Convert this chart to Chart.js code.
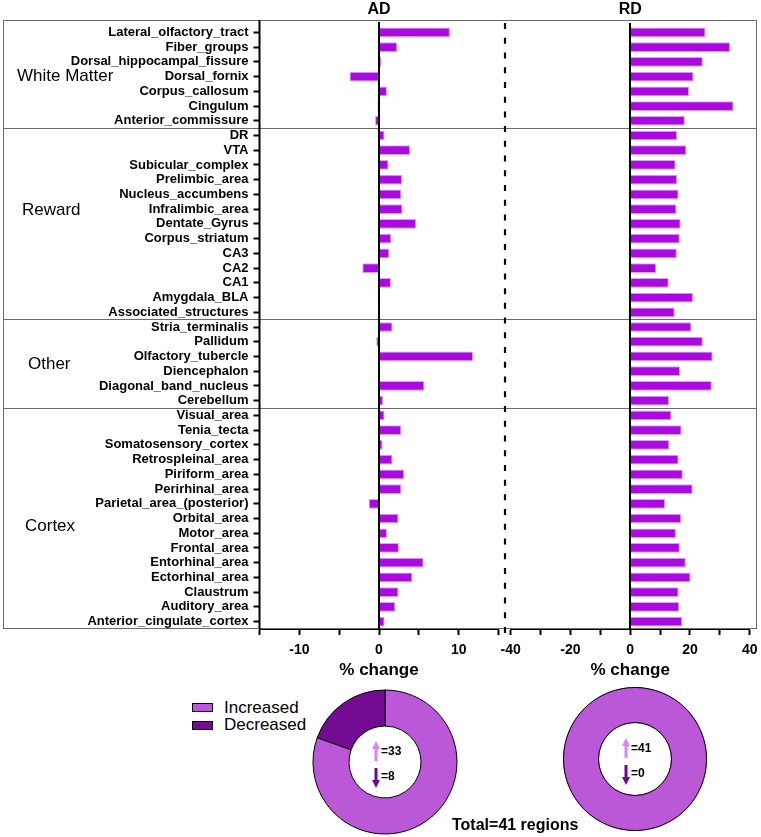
<!DOCTYPE html>
<html><head><meta charset="utf-8">
<script src="https://cdn.jsdelivr.net/npm/chart.js@4.4.1/dist/chart.umd.min.js"></script>
<style>
html,body{margin:0;padding:0;background:#fff;overflow:hidden}
#page{position:relative;width:761px;height:837px;overflow:hidden;font-family:"Liberation Sans",Arial,sans-serif;color:#000}
canvas{position:absolute}
.leg{position:absolute;left:224px;font-size:17px;line-height:17px;white-space:nowrap}
.sw{position:absolute;left:192px;width:19px;height:7px;border:1px solid #000}
#total{position:absolute;left:452px;top:817px;font-weight:bold;font-size:16px;line-height:16px;white-space:nowrap}
</style></head><body>
<div id="page">
<canvas id="ad" width="505" height="684" style="left:0;top:0"></canvas>
<canvas id="rd" width="284" height="684" style="left:480px;top:0"></canvas>
<canvas id="pieAd" width="150" height="150" style="left:310px;top:687px"></canvas>
<canvas id="pieRd" width="150" height="150" style="left:560px;top:684px"></canvas>
<div class="sw" id="sw0" style="top:703px"></div>
<div class="leg" id="lg0" style="top:699px"></div>
<div class="sw" id="sw1" style="top:721px"></div>
<div class="leg" id="lg1" style="top:716px"></div>
<div id="total"></div>
</div>
<script>
// ---------- data ----------
const regions = [
  'Lateral_olfactory_tract','Fiber_groups','Dorsal_hippocampal_fissure','Dorsal_fornix','Corpus_callosum','Cingulum','Anterior_commissure',
  'DR','VTA','Subicular_complex','Prelimbic_area','Nucleus_accumbens','Infralimbic_area','Dentate_Gyrus','Corpus_striatum','CA3','CA2','CA1','Amygdala_BLA','Associated_structures',
  'Stria_terminalis','Pallidum','Olfactory_tubercle','Diencephalon','Diagonal_band_nucleus','Cerebellum',
  'Visual_area','Tenia_tecta','Somatosensory_cortex','Retrospleinal_area','Piriform_area','Perirhinal_area','Parietal_area_(posterior)','Orbital_area','Motor_area','Frontal_area','Entorhinal_area','Ectorhinal_area','Claustrum','Auditory_area','Anterior_cingulate_cortex'
];
const groupNames = ['White Matter','Reward','Other','Cortex'];
const groupSizes = [7, 13, 6, 15];
const adChange = [
  8.9, 2.3, 0.3, -3.7, 1.0, -0.2, -0.5,
  0.7, 3.9, 1.2, 2.9, 2.8, 2.95, 4.65, 1.55, 1.3, -2.1, 1.5, 0.1, -0.1,
  1.7, -0.35, 11.8, -0.1, 5.7, 0.5,
  0.7, 2.8, 0.45, 1.7, 3.15, 2.8, -1.3, 2.45, 1.0, 2.5, 5.6, 4.2, 2.45, 2.05, 0.7
];
const rdChange = [
  25.2, 33.4, 24.3, 21.2, 19.7, 34.6, 18.3,
  15.7, 18.8, 15.2, 15.7, 16.2, 15.5, 16.9, 16.6, 15.6, 8.7, 12.9, 21.0, 14.9,
  20.5, 24.3, 27.6, 16.7, 27.3, 13.0,
  13.8, 17.2, 13.1, 16.2, 17.6, 20.9, 11.7, 17.1, 15.3, 16.6, 18.6, 20.2, 16.2, 16.4, 17.4
];
const adTickLabels = [-10, 0, 10];
const rdTickLabels = [-40, -20, 0, 20, 40];
const countLabels = ['Increased', 'Decreased'];
const adCounts = [33, 8];
const rdCounts = [41, 0];
const totalText = 'Total=41 regions';

// ---------- styling / layout ----------
const FONT = '"Liberation Sans", Arial, sans-serif';
Chart.defaults.font.family = FONT;
Chart.defaults.color = '#000';
const barFill = '#AA0AE1';
const barEdge = '#D9A2F2';
const incColor = '#BA58D8';
const decColor = '#740B93';
const upArrow = '#DE82FA';
const downArrow = '#6B0D8A';
const boxLine = '#6b6b6b';
const groupLabelAt = [3, 12.1, 22.5, 33.5];
const groupLabelX = [17, 22, 28, 25];

function groupEdges() {
  const e = []; let c = 0;
  for (let i = 0; i < groupSizes.length - 1; i++) { c += groupSizes[i]; e.push(c); }
  return e;
}
function crisp(v) { return Math.round(v - 0.5) + 0.5; }

function drawBoxes(chart, x0, x1, withLeft, withRight) {
  const {ctx, chartArea: ca, scales: {y}} = chart;
  const top = ca.top - 4.5;
  const bottom = crisp(ca.bottom - 1);
  ctx.save();
  ctx.strokeStyle = boxLine; ctx.lineWidth = 1;
  ctx.beginPath();
  const ys = [top, bottom].concat(groupEdges().map(k => crisp(y.getPixelForValue(k - 0.5))));
  ys.forEach(v => { ctx.moveTo(x0, v); ctx.lineTo(x1, v); });
  if (withLeft) { ctx.moveTo(x0 + 0.5, top); ctx.lineTo(x0 + 0.5, bottom); }
  if (withRight) { ctx.moveTo(x1 - 0.5, top); ctx.lineTo(x1 - 0.5, bottom); }
  ctx.stroke();
  ctx.restore();
}

const adDeco = {
  id: 'adDeco',
  beforeDatasetsDraw(chart) {
    const {ctx, scales: {y}} = chart;
    drawBoxes(chart, 3, chart.width, true, false);
    ctx.save();
    ctx.fillStyle = '#000';
    ctx.font = '17px ' + FONT;
    ctx.textAlign = 'left'; ctx.textBaseline = 'middle';
    groupNames.forEach((g, i) => ctx.fillText(g, groupLabelX[i], y.getPixelForValue(groupLabelAt[i])));
    ctx.restore();
  },
  afterDatasetsDraw(chart) {
    const {ctx, chartArea: ca, scales: {x}} = chart;
    ctx.save();
    ctx.strokeStyle = '#000'; ctx.lineWidth = 2;
    ctx.beginPath();
    ctx.moveTo(ca.left, ca.top - 5); ctx.lineTo(ca.left, ca.bottom);
    const z = Math.round(x.getPixelForValue(0));
    ctx.moveTo(z, ca.top - 3); ctx.lineTo(z, ca.bottom);
    ctx.stroke();
    ctx.restore();
  }
};

const rdDeco = {
  id: 'rdDeco',
  beforeDatasetsDraw(chart) {
    drawBoxes(chart, 23, 277, false, true);
  },
  afterDatasetsDraw(chart) {
    const {ctx, chartArea: ca, scales: {x}} = chart;
    ctx.save();
    ctx.strokeStyle = '#000'; ctx.lineWidth = 2;
    ctx.beginPath();
    const z = Math.round(x.getPixelForValue(0));
    ctx.moveTo(z, ca.top - 2); ctx.lineTo(z, ca.bottom);
    ctx.stroke();
    ctx.setLineDash([6, 8.73]);
    ctx.lineWidth = 2.2;
    ctx.beginPath();
    ctx.moveTo(ca.left - 5.7, ca.top - 2); ctx.lineTo(ca.left - 5.7, ca.bottom + 4);
    ctx.stroke();
    ctx.restore();
  }
};

function barOptions(title, min, max, step, labels, padL, padR, showY) {
  return {
    indexAxis: 'y', responsive: false, animation: false, events: [],
    layout: { autoPadding: false, padding: { left: padL, right: padR, top: 0, bottom: 0 } },
    plugins: {
      legend: { display: false }, tooltip: { enabled: false },
      title: { display: true, text: title, fullSize: false, color: '#000', font: { size: 16, weight: 'bold' }, padding: { top: 0, bottom: 5.8 } }
    },
    scales: {
      y: {
        type: 'category', display: showY,
        afterFit: s => { s.width = showY ? 259.5 : 0; },
        grid: { display: true, offset: false, drawOnChartArea: false, drawTicks: true, tickLength: 6, tickColor: '#000', tickWidth: 2 },
        border: { display: false },
        ticks: { color: '#000', font: { size: 13, weight: 'bold' }, padding: 5, autoSkip: false }
      },
      x: {
        type: 'linear', min: min, max: max,
        afterFit: s => { s.height = 55; },
        grid: { display: true, drawOnChartArea: false, drawTicks: true, tickLength: 6, tickColor: '#000', tickWidth: 2 },
        border: { display: true, color: '#000', width: 2 },
        ticks: { stepSize: step, color: '#000', font: { size: 14, weight: 'bold' }, padding: 6.5, maxRotation: 0, autoSkip: false,
                 callback: v => labels.includes(v) ? String(v) : '' },
        title: { display: true, text: '% change', color: '#000', font: { size: 17, weight: 'bold' }, padding: { top: 0, bottom: 3 } }
      }
    }
  };
}

function barData(values) {
  return { labels: regions, datasets: [{ data: values, backgroundColor: barFill, borderColor: barEdge, borderWidth: 1,
    barPercentage: 0.66, categoryPercentage: 1 }] };
}

new Chart(document.getElementById('ad'), {
  type: 'bar', data: barData(adChange),
  options: barOptions('AD', -15, 15, 5, adTickLabels, 0, 4.7, true),
  plugins: [adDeco]
});
new Chart(document.getElementById('rd'), {
  type: 'bar', data: barData(rdChange),
  options: barOptions('RD', -40, 40, 10, rdTickLabels, 30.7, 11, false),
  plugins: [rdDeco]
});

function centerPlugin(counts, manualRing) {
  return {
    id: 'center',
    afterDraw(chart) {
      const {ctx} = chart;
      const arc = chart.getDatasetMeta(0).data[0];
      const cx = arc.x, cy = arc.y;
      ctx.save();
      if (manualRing) {
        ctx.strokeStyle = '#000'; ctx.lineWidth = 1;
        ctx.beginPath(); ctx.arc(cx, cy, arc.outerRadius - 0.5, 0, Math.PI * 2); ctx.stroke();
        ctx.beginPath(); ctx.arc(cx, cy, arc.innerRadius + 0.5, 0, Math.PI * 2); ctx.stroke();
      }
      const ax = cx - 9;
      // up arrow
      ctx.fillStyle = upArrow;
      ctx.beginPath();
      ctx.moveTo(ax, cy - 21); ctx.lineTo(ax - 4, cy - 13); ctx.lineTo(ax + 4, cy - 13); ctx.closePath(); ctx.fill();
      ctx.fillRect(ax - 1.5, cy - 14, 3, 13);
      // down arrow
      ctx.fillStyle = downArrow;
      ctx.beginPath();
      ctx.moveTo(ax, cy + 26); ctx.lineTo(ax - 4, cy + 18); ctx.lineTo(ax + 4, cy + 18); ctx.closePath(); ctx.fill();
      ctx.fillRect(ax - 1.5, cy + 6, 3, 13);
      ctx.fillStyle = '#000';
      ctx.font = 'bold 12px ' + FONT;
      ctx.textAlign = 'left'; ctx.textBaseline = 'middle';
      ctx.fillText('=' + counts[0], cx - 4, cy - 10);
      ctx.fillText('=' + counts[1], cx - 4, cy + 15);
      ctx.restore();
    }
  };
}

function pie(id, counts) {
  const manualRing = counts.includes(0);
  new Chart(document.getElementById(id), {
    type: 'doughnut',
    data: { labels: countLabels, datasets: [{ data: counts, backgroundColor: [incColor, decColor], borderColor: '#000',
      borderWidth: manualRing ? 0 : 1, hoverOffset: 0, hoverBorderWidth: manualRing ? 0 : 1 }] },
    options: { responsive: false, animation: false, events: [], radius: 72, cutout: '50%',
      layout: { padding: 0 },
      plugins: { legend: { display: false }, tooltip: { enabled: false } } },
    plugins: [centerPlugin(counts, manualRing)]
  });
}
pie('pieAd', adCounts);
pie('pieRd', rdCounts);

document.getElementById('sw0').style.background = incColor;
document.getElementById('sw1').style.background = decColor;
document.getElementById('lg0').textContent = countLabels[0];
document.getElementById('lg1').textContent = countLabels[1];
document.getElementById('total').textContent = totalText;
</script>
</body></html>
